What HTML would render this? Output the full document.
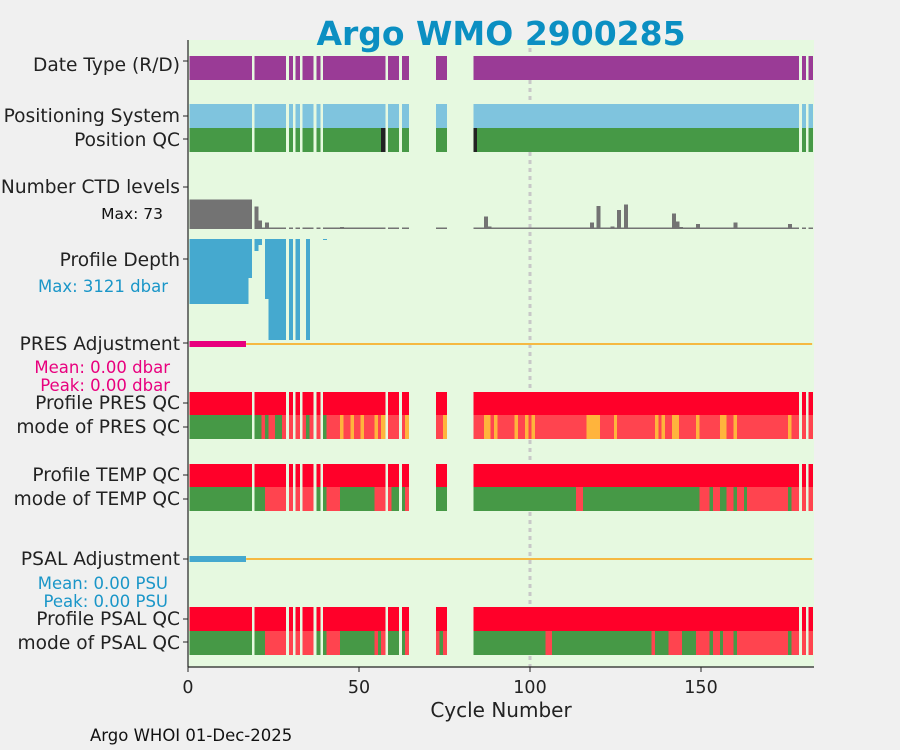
<!DOCTYPE html>
<html><head><meta charset="utf-8"><style>
html,body{margin:0;padding:0;background:#f0f0f0;}
svg{display:block;font-family:"DejaVu Sans","Liberation Sans",sans-serif;}
#marks rect{shape-rendering:crispEdges;}
</style></head><body>
<svg id="chart" width="900" height="750" viewBox="0 0 900 750">
<rect x="0" y="0" width="900" height="750" fill="#f0f0f0"/>
<rect x="188" y="40" width="626" height="627" fill="#e6f9e0"/>
<line x1="530" y1="40" x2="530" y2="667" stroke="#c8c8c8" stroke-width="3" stroke-dasharray="4,4"/>
<g id="marks"></g>
<line x1="188" y1="40" x2="188" y2="667" stroke="#222" stroke-width="1.2"/>
<line x1="188" y1="667" x2="814" y2="667" stroke="#222" stroke-width="1.2"/>
<g id="axes"></g>
<text x="501" y="45" text-anchor="middle" font-size="33" font-weight="bold" fill="#0b8fc2">Argo WMO 2900285</text>
<g font-size="18.6" fill="#222" text-anchor="end">
<text x="180" y="71">Date Type (R/D)</text>
<text x="180" y="122">Positioning System</text>
<text x="180" y="146">Position QC</text>
<text x="180" y="193">Number CTD levels</text>
<text x="180" y="266">Profile Depth</text>
<text x="180" y="350">PRES Adjustment</text>
<text x="180" y="409">Profile PRES QC</text>
<text x="180" y="433">mode of PRES QC</text>
<text x="180" y="481">Profile TEMP QC</text>
<text x="180" y="505">mode of TEMP QC</text>
<text x="180" y="565">PSAL Adjustment</text>
<text x="180" y="625">Profile PSAL QC</text>
<text x="180" y="649">mode of PSAL QC</text>
</g>
<text x="163" y="219" font-size="15.5" fill="#111" text-anchor="end">Max: 73</text>
<text x="168" y="292" font-size="16.5" fill="#1a96c8" text-anchor="end">Max: 3121 dbar</text>
<text x="170" y="373" font-size="16.5" fill="#e8007e" text-anchor="end">Mean: 0.00 dbar</text>
<text x="170" y="391" font-size="16.5" fill="#e8007e" text-anchor="end">Peak: 0.00 dbar</text>
<text x="168" y="589" font-size="16.5" fill="#1a96c8" text-anchor="end">Mean: 0.00 PSU</text>
<text x="168" y="607" font-size="16.5" fill="#1a96c8" text-anchor="end">Peak: 0.00 PSU</text>
<text x="501" y="717" font-size="20" fill="#222" text-anchor="middle">Cycle Number</text>
<text x="90" y="741" font-size="16.5" fill="#111">Argo WHOI 01-Dec-2025</text>
</svg>
<script>
const present = [];
const presentRanges = [[1,18],[20,28],[30,30],[32,32],[34,36],[38,38],[40,57],[59,61],[63,64],[73,75],[84,178],[180,180],[182,182]];
const posQcBad = [57,84];
const ctdCycles = [20,21,23,45,87,88,117,118,120,124,126,128,142,143,144,149,160,176];
const ctdValues = [55,20,15,4,31,6,3,15,57,6,47,60,38,18,4,12,15,12];
const ctdFirstMax = 73;
const depthCycles = [1,2,3,4,5,6,7,8,9,10,11,12,13,14,15,16,17,18,20,21,23,24,25,26,27,28,30,32,35,40];
const depthValues = [2010,2010,2010,2010,2010,2010,2010,2010,2010,2010,2010,2010,2010,2010,2010,2010,2010,1205,370,185,1860,3121,3121,3121,3121,3121,3121,3121,3121,30];
const presMode = [[1,21,'g'],[22,22,'r'],[23,23,'g'],[24,25,'r'],[26,27,'g'],[28,34,'r'],[35,35,'g'],[36,38,'r'],[40,40,'g'],[41,44,'r'],[45,45,'o'],[46,47,'r'],[48,48,'o'],[49,50,'r'],[51,51,'o'],[52,54,'r'],[55,55,'o'],[56,56,'r'],[57,57,'o'],[59,63,'r'],[64,64,'o'],[73,74,'r'],[75,75,'o'],[84,86,'r'],[87,88,'o'],[89,89,'r'],[90,90,'o'],[91,95,'r'],[96,96,'o'],[97,98,'r'],[99,99,'o'],[100,100,'r'],[101,101,'o'],[102,116,'r'],[117,120,'o'],[121,124,'r'],[125,125,'o'],[126,136,'r'],[137,137,'o'],[138,138,'r'],[139,139,'o'],[140,141,'r'],[142,143,'o'],[144,148,'r'],[149,149,'o'],[150,155,'r'],[156,157,'o'],[158,159,'r'],[160,160,'o'],[161,175,'r'],[176,176,'o'],[177,182,'r']];
const tempMode = [[1,22,'g'],[23,36,'r'],[38,40,'g'],[41,44,'r'],[45,54,'g'],[55,59,'r'],[60,63,'g'],[64,64,'r'],[73,113,'g'],[114,115,'r'],[116,149,'g'],[150,152,'r'],[153,153,'g'],[154,155,'r'],[156,157,'g'],[158,159,'r'],[160,160,'g'],[161,162,'r'],[163,163,'g'],[164,175,'r'],[176,176,'g'],[177,182,'r']];
const psalMode = [[1,22,'g'],[23,36,'r'],[38,40,'g'],[41,44,'r'],[45,54,'g'],[55,55,'r'],[56,56,'g'],[57,57,'r'],[59,63,'g'],[64,64,'r'],[73,73,'r'],[74,74,'g'],[75,75,'r'],[84,104,'g'],[105,106,'r'],[107,135,'g'],[136,136,'r'],[137,140,'g'],[141,144,'r'],[145,148,'g'],[149,152,'r'],[153,153,'g'],[154,155,'r'],[156,156,'g'],[157,159,'r'],[160,160,'g'],[161,175,'r'],[176,176,'g'],[177,182,'r']];
const xTicks = [0,50,100,150];
const yTickPos = [61,116,139,187,259,343,403,427,475,499,559,619,642];
const adjustValues = [0,0];

const NS='http://www.w3.org/2000/svg';
const marks=document.getElementById('marks');
const axes=document.getElementById('axes');
const X0=188, SC=3.42;
function xs(c){return X0+SC*c;}
function cellX(c){return xs(c-0.5);}
presentRanges.forEach(function(r){for(let c=r[0];c<=r[1];c++)present.push(c);});
const COL={g:'#469946',r:'#ff444f',o:'#ffb43c'};
function rect(x,y,w,h,fill,name){
  const e=document.createElementNS(NS,'rect');
  e.setAttribute('x',x);e.setAttribute('y',y);e.setAttribute('width',w);e.setAttribute('height',h);e.setAttribute('fill',fill);
  
  
  marks.appendChild(e);return e;
}
function modeOf(runs,c){for(const r of runs){if(c>=r[0]&&c<=r[1])return r[2];}return 'r';}
const W=SC+0.6;
present.forEach(function(c){
  const x=cellX(c);
  rect(x,56,W,24,'#9a3b96','date-type-cell');
  rect(x,104,W,24,'#7fc4de','positioning-system-cell');
  rect(x,128,W,24,posQcBad.indexOf(c)>=0?'#222':'#469946','position-qc-cell');
  rect(x,392,W,23,'#ff0029','profile-pres-qc-cell');
  rect(x,415,W,24,COL[modeOf(presMode,c)],'mode-pres-qc-cell');
  rect(x,464,W,23,'#ff0029','profile-temp-qc-cell');
  rect(x,487,W,24,COL[modeOf(tempMode,c)],'mode-temp-qc-cell');
  rect(x,607,W,24,'#ff0029','profile-psal-qc-cell');
  rect(x,631,W,24,COL[modeOf(psalMode,c)],'mode-psal-qc-cell');
  let v=1; const i=ctdCycles.indexOf(c);
  if(i>=0)v=ctdValues[i]; else if(c<=18)v=ctdFirstMax;
  const h=Math.max(1.2,v/ctdFirstMax*29.5);
  rect(x,228.8-h,W,h,'#737373','ctd-levels-bar');
});
const dMax=Math.max.apply(null,depthValues);
depthCycles.forEach(function(c,i){
  const h=Math.max(1,depthValues[i]/dMax*101);
  rect(cellX(c),239,W,h,'#45a9cf','profile-depth-bar');
});
function hline(y,x1,x2,col,sw,name){
  const l=document.createElementNS(NS,'line');
  l.setAttribute('x1',x1);l.setAttribute('x2',x2);l.setAttribute('y1',y);l.setAttribute('y2',y);
  l.setAttribute('stroke',col);l.setAttribute('stroke-width',sw);
  
  
  marks.appendChild(l);
}
hline(344+adjustValues[0],xs(17),xs(182.5),'#f5b942',2,'pres-adjustment-line');
rect(cellX(1),341,xs(17)-cellX(1),6,'#e8007e','pres-adjustment-bar');
hline(559+adjustValues[1],xs(17),xs(182.5),'#f5b942',2,'psal-adjustment-line');
rect(cellX(1),556,xs(17)-cellX(1),6,'#45a9cf','psal-adjustment-bar');
xTicks.forEach(function(t){
  const l=document.createElementNS(NS,'line');
  l.setAttribute('x1',xs(t));l.setAttribute('x2',xs(t));l.setAttribute('y1',667);l.setAttribute('y2',672);
  l.setAttribute('stroke','#222');
  
  
  axes.appendChild(l);
  const tx=document.createElementNS(NS,'text');
  tx.setAttribute('x',xs(t));tx.setAttribute('y',693);tx.setAttribute('text-anchor','middle');tx.setAttribute('font-size','17.5');tx.setAttribute('fill','#222');
  tx.textContent=t;
  
  
  axes.appendChild(tx);
});
yTickPos.forEach(function(y){
  const l=document.createElementNS(NS,'line');
  l.setAttribute('x1',183);l.setAttribute('x2',188);l.setAttribute('y1',y);l.setAttribute('y2',y);
  l.setAttribute('stroke','#222');
  
  
  axes.appendChild(l);
});
</script>
</body></html>
